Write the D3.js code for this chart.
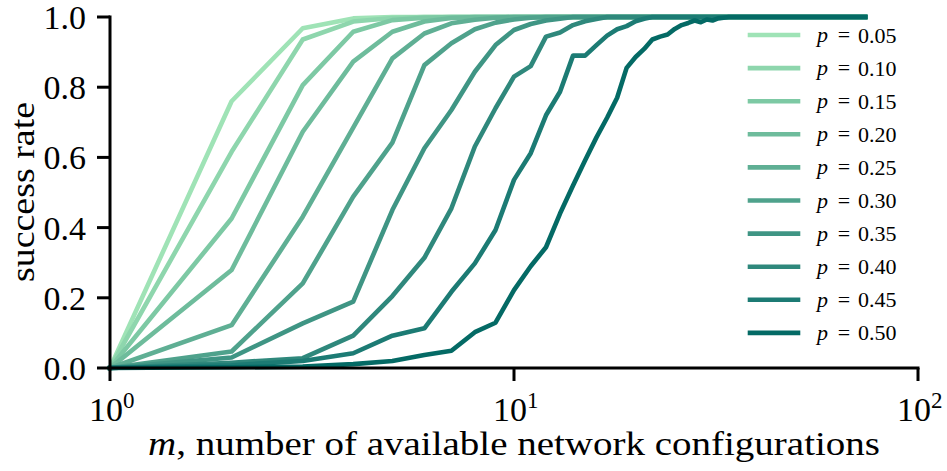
<!DOCTYPE html>
<html lang="en">

<head>
    <meta charset="UTF-8">
    <title>success rate vs m</title>
    <style>
        * {
            margin: 0;
            padding: 0;
        }

        html,
        body {
            overflow: hidden;
            background: #fff;
        }

        svg text {
            font-family: "Liberation Serif", "Times New Roman", Times, serif;
            fill: #000;
        }
    </style>
</head>

<body>
    <div id="chart"></div>
    <script src="https://cdn.jsdelivr.net/npm/d3@7"></script>
    <script>
        // m = number of available network configurations
        const m = [
            1, 2, 3, 4, 5, 6, 7, 8, 9, 10,
            11, 12, 13, 14, 15, 16, 17, 18, 19, 20,
            21, 22, 23, 24, 25, 26, 27, 28, 29, 30,
            31, 32, 33, 34, 35, 36, 37, 38, 39, 40,
            41, 42, 43, 44, 45, 46, 47, 48, 49, 50,
            51, 52, 53, 54, 55, 56, 57, 58, 59, 60,
            61, 62, 63, 64, 65, 66, 67, 68, 69, 70,
            71, 72, 73, 74
        ]

        const pValues = [0.05, 0.10, 0.15, 0.20, 0.25, 0.30, 0.35, 0.40, 0.45, 0.50]

        const p05 = [
            0, 0.76, 0.968, 0.996, 1, 1, 1, 1, 1, 1,
            1, 1, 1, 1, 1, 1, 1, 1, 1, 1,
            1, 1, 1, 1, 1, 1, 1, 1, 1, 1,
            1, 1, 1, 1, 1, 1, 1, 1, 1, 1,
            1, 1, 1, 1, 1, 1, 1, 1, 1, 1,
            1, 1, 1, 1, 1, 1, 1, 1, 1, 1,
            1, 1, 1, 1, 1, 1, 1, 1, 1, 1,
            1, 1, 1, 1
        ]
        const p10 = [
            0, 0.616, 0.936, 0.987, 0.997, 1, 1, 1, 1, 1,
            1, 1, 1, 1, 1, 1, 1, 1, 1, 1,
            1, 1, 1, 1, 1, 1, 1, 1, 1, 1,
            1, 1, 1, 1, 1, 1, 1, 1, 1, 1,
            1, 1, 1, 1, 1, 1, 1, 1, 1, 1,
            1, 1, 1, 1, 1, 1, 1, 1, 1, 1,
            1, 1, 1, 1, 1, 1, 1, 1, 1, 1,
            1, 1, 1, 1
        ]
        const p15 = [
            0, 0.426, 0.806, 0.958, 0.991, 0.998, 1, 1, 1, 1,
            1, 1, 1, 1, 1, 1, 1, 1, 1, 1,
            1, 1, 1, 1, 1, 1, 1, 1, 1, 1,
            1, 1, 1, 1, 1, 1, 1, 1, 1, 1,
            1, 1, 1, 1, 1, 1, 1, 1, 1, 1,
            1, 1, 1, 1, 1, 1, 1, 1, 1, 1,
            1, 1, 1, 1, 1, 1, 1, 1, 1, 1,
            1, 1, 1, 1
        ]
        const p20 = [
            0, 0.279, 0.673, 0.873, 0.958, 0.987, 0.997, 1, 1, 1,
            1, 1, 1, 1, 1, 1, 1, 1, 1, 1,
            1, 1, 1, 1, 1, 1, 1, 1, 1, 1,
            1, 1, 1, 1, 1, 1, 1, 1, 1, 1,
            1, 1, 1, 1, 1, 1, 1, 1, 1, 1,
            1, 1, 1, 1, 1, 1, 1, 1, 1, 1,
            1, 1, 1, 1, 1, 1, 1, 1, 1, 1,
            1, 1, 1, 1
        ]
        const p25 = [
            0, 0.122, 0.431, 0.685, 0.882, 0.953, 0.982, 0.992, 0.998, 1,
            1, 1, 1, 1, 1, 1, 1, 1, 1, 1,
            1, 1, 1, 1, 1, 1, 1, 1, 1, 1,
            1, 1, 1, 1, 1, 1, 1, 1, 1, 1,
            1, 1, 1, 1, 1, 1, 1, 1, 1, 1,
            1, 1, 1, 1, 1, 1, 1, 1, 1, 1,
            1, 1, 1, 1, 1, 1, 1, 1, 1, 1,
            1, 1, 1, 1
        ]
        const p30 = [
            0, 0.047, 0.241, 0.488, 0.642, 0.863, 0.925, 0.965, 0.984, 0.993,
            0.998, 1, 1, 1, 1, 1, 1, 1, 1, 1,
            1, 1, 1, 1, 1, 1, 1, 1, 1, 1,
            1, 1, 1, 1, 1, 1, 1, 1, 1, 1,
            1, 1, 1, 1, 1, 1, 1, 1, 1, 1,
            1, 1, 1, 1, 1, 1, 1, 1, 1, 1,
            1, 1, 1, 1, 1, 1, 1, 1, 1, 1,
            1, 1, 1, 1
        ]
        const p35 = [
            0, 0.03, 0.127, 0.189, 0.45, 0.626, 0.735, 0.844, 0.92, 0.963,
            0.98, 0.99, 0.995, 1, 1, 1, 1, 1, 1, 1,
            1, 1, 1, 1, 1, 1, 1, 1, 1, 1,
            1, 1, 1, 1, 1, 1, 1, 1, 1, 1,
            1, 1, 1, 1, 1, 1, 1, 1, 1, 1,
            1, 1, 1, 1, 1, 1, 1, 1, 1, 1,
            1, 1, 1, 1, 1, 1, 1, 1, 1, 1,
            1, 1, 1, 1
        ]
        const p40 = [
            0, 0.015, 0.028, 0.092, 0.205, 0.314, 0.455, 0.631, 0.74, 0.83,
            0.86, 0.944, 0.956, 0.977, 0.988, 0.994, 1, 1, 1, 1,
            1, 1, 1, 1, 1, 1, 1, 1, 1, 1,
            1, 1, 1, 1, 1, 1, 1, 1, 1, 1,
            1, 1, 1, 1, 1, 1, 1, 1, 1, 1,
            1, 1, 1, 1, 1, 1, 1, 1, 1, 1,
            1, 1, 1, 1, 1, 1, 1, 1, 1, 1,
            1, 1, 1, 1
        ]
        const p45 = [
            0, 0.008, 0.02, 0.042, 0.092, 0.113, 0.217, 0.298, 0.393, 0.536,
            0.612, 0.72, 0.787, 0.89, 0.89, 0.92, 0.947, 0.965, 0.974, 0.988,
            0.995, 1, 1, 1, 1, 1, 1, 1, 1, 1,
            1, 1, 1, 1, 1, 1, 1, 1, 1, 1,
            1, 1, 1, 1, 1, 1, 1, 1, 1, 1,
            1, 1, 1, 1, 1, 1, 1, 1, 1, 1,
            1, 1, 1, 1, 1, 1, 1, 1, 1, 1,
            1, 1, 1, 1
        ]
        const p50 = [
            0, 0.002, 0.004, 0.011, 0.02, 0.037, 0.049, 0.102, 0.129, 0.222,
            0.29, 0.344, 0.44, 0.52, 0.592, 0.657, 0.713, 0.77, 0.855, 0.886,
            0.909, 0.936, 0.944, 0.95, 0.966, 0.977, 0.983, 0.99, 0.985, 0.993,
            0.99, 0.996, 0.998, 1, 1, 1, 1, 1, 1, 1,
            1, 1, 1, 1, 1, 1, 1, 1, 1, 1,
            1, 1, 1, 1, 1, 1, 1, 1, 1, 1,
            1, 1, 1, 1, 1, 1, 1, 1, 1, 1,
            1, 1, 1, 1
        ]

        const seriesList = [p05, p10, p15, p20, p25, p30, p35, p40, p45, p50]

        const yTicks = [0, 0.2, 0.4, 0.6, 0.8, 1.0]
        const xTicks = [1, 10, 100]

        const colors = ['#9fe3b6', '#8ed6ad', '#7dc9a4', '#6ebc9c', '#5faf94',
            '#4fa28c', '#3f9584', '#2f887c', '#1c7b74', '#046a65']

        function drawChart() {
            const width = 947
            const height = 471
            const svg = d3.select('#chart')
                .append('svg')
                .attr('width', width)
                .attr('height', height)
                .style('background', '#fff')

            const serif = '"Liberation Serif", "Times New Roman", Times, serif'

            const x = d3.scaleLog().domain([1, 100]).range([110, 918])
            const y = d3.scaleLinear().domain([0, 1]).range([368, 17])

            // curves
            const line = d3.line()
                .x((d, i) => x(m[i]))
                .y(d => y(d))

            svg.append('g')
                .selectAll('path')
                .data(seriesList)
                .join('path')
                .attr('d', d => line(d))
                .attr('fill', 'none')
                .attr('stroke', (d, i) => colors[i])
                .attr('stroke-width', 4.6)
                .attr('stroke-linejoin', 'round')
                .attr('stroke-linecap', 'square')

            // spines
            svg.append('line')
                .attr('x1', x(1)).attr('x2', x(1))
                .attr('y1', y(1) - 1.5).attr('y2', y(0) + 1.5)
                .attr('stroke', '#000').attr('stroke-width', 3)
            svg.append('line')
                .attr('x1', x(1) - 1.5).attr('x2', x(100) + 1.5)
                .attr('y1', y(0)).attr('y2', y(0))
                .attr('stroke', '#000').attr('stroke-width', 3)

            // y ticks
            const yg = svg.append('g')
            yg.selectAll('line')
                .data(yTicks)
                .join('line')
                .attr('x1', x(1) - 13).attr('x2', x(1))
                .attr('y1', d => y(d)).attr('y2', d => y(d))
                .attr('stroke', '#000').attr('stroke-width', 3)
            yg.selectAll('text')
                .data(yTicks)
                .join('text')
                .attr('x', 86)
                .attr('y', d => y(d) + 12)
                .attr('text-anchor', 'end')
                .attr('font-family', serif)
                .style('font-size', '34px')
                .text(d => d3.format('.1f')(d))

            // x ticks
            const xg = svg.append('g')
            xg.selectAll('line')
                .data(xTicks)
                .join('line')
                .attr('x1', d => x(d)).attr('x2', d => x(d))
                .attr('y1', y(0)).attr('y2', y(0) + 13)
                .attr('stroke', '#000').attr('stroke-width', 3)
            const xl = xg.selectAll('text')
                .data(xTicks)
                .join('text')
                .attr('x', d => x(d) - 21)
                .attr('y', 421)
                .attr('font-family', serif)
                .style('font-size', '34px')
            xl.append('tspan').text('10')
            xl.append('tspan')
                .attr('dy', -13)
                .style('font-size', '23px')
                .text(d => Math.round(Math.log10(d)))

            // axis labels
            svg.append('text')
                .attr('x', 148)
                .attr('y', 455)
                .attr('textLength', 732)
                .attr('lengthAdjust', 'spacingAndGlyphs')
                .attr('font-family', serif)
                .style('font-size', '34px')
                .html('<tspan font-style="italic">m</tspan>, number of available network configurations')

            svg.append('text')
                .attr('transform', 'translate(34,192) rotate(-90)')
                .attr('text-anchor', 'middle')
                .attr('textLength', 180)
                .attr('lengthAdjust', 'spacingAndGlyphs')
                .attr('font-family', serif)
                .style('font-size', '34px')
                .text('success rate')

            // legend
            const legend = svg.append('g')
                .attr('font-family', serif)
                .selectAll('g')
                .data(pValues)
                .join('g')
                .attr('transform', (d, i) => `translate(0,${35 + i * 33.1})`)
            legend.append('line')
                .attr('x1', 750).attr('x2', 798)
                .attr('y1', 0).attr('y2', 0)
                .attr('stroke', (d, i) => colors[i])
                .attr('stroke-width', 4.6)
                .attr('stroke-linecap', 'square')
            legend.append('text')
                .attr('x', 817).attr('y', 7)
                .style('font-size', '22px')
                .style('font-style', 'italic')
                .text('p')
            legend.append('text')
                .attr('x', 844).attr('y', 7)
                .attr('text-anchor', 'middle')
                .style('font-size', '22px')
                .text('=')
            legend.append('text')
                .attr('x', 858).attr('y', 7.5)
                .style('font-size', '22px')
                .text(d => d3.format('.2f')(d))
        }

        drawChart()
    </script>
</body>

</html>
